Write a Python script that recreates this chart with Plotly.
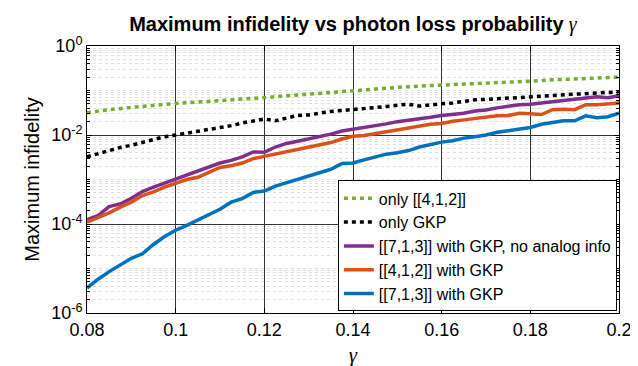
import plotly.graph_objects as go

# ---- data (log10 of maximum infidelity) ----
gamma = [0.0800, 0.0825, 0.0850, 0.0875, 0.0900, 0.0925, 0.0950, 0.0975,
         0.1000, 0.1025, 0.1050, 0.1075, 0.1100, 0.1125, 0.1150, 0.1175,
         0.1200, 0.1225, 0.1250, 0.1275, 0.1300, 0.1325, 0.1350, 0.1375,
         0.1400, 0.1425, 0.1450, 0.1475, 0.1500, 0.1525, 0.1550, 0.1575,
         0.1600, 0.1625, 0.1650, 0.1675, 0.1700, 0.1725, 0.1750, 0.1775,
         0.1800, 0.1825, 0.1850, 0.1875, 0.1900, 0.1925, 0.1950, 0.1975,
         0.2000]

gamma_coarse = [0.080, 0.085, 0.090, 0.095, 0.100, 0.105, 0.110, 0.115,
                0.120, 0.125, 0.130, 0.135, 0.140, 0.145, 0.150, 0.155,
                0.160, 0.165, 0.170, 0.175, 0.180, 0.185, 0.190, 0.195,
                0.200]

only_412_log = [-1.50, -1.43, -1.38, -1.33, -1.29, -1.26, -1.23, -1.20,
                -1.16, -1.12, -1.08, -1.05, -1.01, -0.97, -0.93, -0.90,
                -0.88, -0.85, -0.83, -0.81, -0.79, -0.76, -0.74, -0.72,
                -0.70]

only_gkp_log = [-2.49, -2.42, -2.34, -2.28, -2.23, -2.17, -2.09, -2.04,
                -2.00, -1.96, -1.92, -1.87, -1.83, -1.79, -1.73, -1.68,
                -1.64, -1.68, -1.61, -1.56, -1.55, -1.50, -1.47, -1.45,
                -1.43, -1.41, -1.39, -1.36, -1.33, -1.31, -1.35, -1.32,
                -1.30, -1.28, -1.24, -1.21, -1.20, -1.19, -1.17, -1.16,
                -1.15, -1.13, -1.11, -1.10, -1.08, -1.07, -1.06, -1.05,
                -1.03]

c713_noanalog_log = [-3.90, -3.81, -3.61, -3.55, -3.42, -3.27, -3.17, -3.08,
                     -2.98, -2.89, -2.82, -2.72, -2.63, -2.57, -2.49, -2.38,
                     -2.39, -2.27, -2.19, -2.14, -2.09, -2.03, -1.98, -1.91,
                     -1.87, -1.84, -1.80, -1.75, -1.70, -1.67, -1.63, -1.60,
                     -1.56, -1.54, -1.51, -1.46, -1.44, -1.39, -1.36, -1.32,
                     -1.31, -1.28, -1.25, -1.23, -1.20, -1.16, -1.14, -1.16,
                     -1.12]

c412_gkp_log = [-3.96, -3.86, -3.75, -3.62, -3.51, -3.36, -3.28, -3.17,
                -3.08, -3.00, -2.95, -2.84, -2.73, -2.69, -2.63, -2.53,
                -2.48, -2.43, -2.38, -2.32, -2.27, -2.22, -2.17, -2.09,
                -2.03, -2.01, -1.97, -1.93, -1.89, -1.85, -1.81, -1.76,
                -1.74, -1.69, -1.66, -1.63, -1.60, -1.57, -1.56, -1.51,
                -1.52, -1.54, -1.43, -1.42, -1.43, -1.32, -1.32, -1.30,
                -1.28]

c713_gkp_log = [-5.44, -5.24, -5.07, -4.93, -4.77, -4.67, -4.46, -4.28,
                -4.14, -4.03, -3.91, -3.79, -3.67, -3.51, -3.43, -3.29,
                -3.26, -3.15, -3.07, -2.99, -2.92, -2.83, -2.77, -2.64,
                -2.63, -2.56, -2.49, -2.43, -2.40, -2.35, -2.27, -2.21,
                -2.16, -2.13, -2.07, -2.04, -2.00, -1.94, -1.90, -1.86,
                -1.83, -1.76, -1.73, -1.68, -1.68, -1.57, -1.61, -1.59,
                -1.51]

series_names = ["only [[4,1,2]]", "only GKP",
                "[[7,1,3]] with GKP, no analog info",
                "[[4,1,2]] with GKP", "[[7,1,3]] with GKP"]

x_ticks = [0.08, 0.10, 0.12, 0.14, 0.16, 0.18, 0.20]
x_ticktext = ["0.08", "0.1", "0.12", "0.14", "0.16", "0.18", "0.2"]
y_ticks = [1e-6, 1e-4, 1e-2, 1]
y_ticktext = ["10<sup>-6</sup>", "10<sup>-4</sup>", "10<sup>-2</sup>", "10<sup>0</sup>"]


def lin(vals):
    return [10 ** v for v in vals]


FONT = "Liberation Sans, Arial, Helvetica, sans-serif"
SERIF = "Liberation Serif, DejaVu Serif, serif"

fig = go.Figure()
fig.add_trace(go.Scatter(x=gamma_coarse, y=lin(only_412_log), mode="lines",
                         name=series_names[0],
                         line=dict(color="#77AC30", width=3.5, dash="4px,4px")))
fig.add_trace(go.Scatter(x=gamma, y=lin(only_gkp_log), mode="lines",
                         name=series_names[1],
                         line=dict(color="#000000", width=3.5, dash="4px,4px")))
fig.add_trace(go.Scatter(x=gamma, y=lin(c713_noanalog_log), mode="lines",
                         name=series_names[2],
                         line=dict(color="#7E2F8E", width=3.5)))
fig.add_trace(go.Scatter(x=gamma, y=lin(c412_gkp_log), mode="lines",
                         name=series_names[3],
                         line=dict(color="#D95319", width=3.5)))
fig.add_trace(go.Scatter(x=gamma, y=lin(c713_gkp_log), mode="lines",
                         name=series_names[4],
                         line=dict(color="#0072BD", width=3.5)))

minor_y = [m * 10.0 ** k for k in range(-6, 0) for m in range(1, 10)
           if not (m == 1 and k % 2 == 0)]

fig.update_layout(
    width=638, height=366,
    margin=dict(l=79, r=27, t=38, b=53),
    paper_bgcolor="white", plot_bgcolor="white",
    font=dict(family=FONT, size=18, color="black"),
    title=dict(
        text="<b>Maximum infidelity vs photon loss probability</b>"
             "<span style='font-family:Liberation Serif'><i> γ</i></span>",
        x=0.5405, xanchor="center", y=0.955, yanchor="middle",
        font=dict(family=FONT, size=20, color="black")),
    showlegend=True,
    legend=dict(x=0.996, xanchor="right", y=0.006, yanchor="bottom",
                bgcolor="white", bordercolor="black", borderwidth=1,
                font=dict(family=FONT, size=16, color="black"),
                itemwidth=30, tracegroupgap=0),
)

fig.update_xaxes(
    range=[0.08, 0.2], tickvals=x_ticks, ticktext=x_ticktext,
    ticks="inside", ticklen=5, tickcolor="black",
    showline=True, linecolor="black", linewidth=1, mirror="allticks",
    showgrid=True, gridcolor="#333333", gridwidth=1, zeroline=False,
    tickfont=dict(family=FONT, size=18),
    title=dict(text="<i>γ</i>", font=dict(family=SERIF, size=21), standoff=8),
)

fig.update_yaxes(
    type="log", range=[-6, 0], tickvals=y_ticks, ticktext=y_ticktext,
    ticks="inside", ticklen=5, tickcolor="black",
    showline=True, linecolor="black", linewidth=1, mirror="allticks",
    showgrid=True, gridcolor="#333333", gridwidth=1, zeroline=False,
    tickfont=dict(family=FONT, size=18),
    minor=dict(tickmode="array", tickvals=minor_y, ticks="inside", ticklen=3,
               tickcolor="black", showgrid=True, gridcolor="#e0e0e0",
               griddash="dot", gridwidth=1),
    title=dict(text="Maximum infidelity", font=dict(family=FONT, size=20),
               standoff=6),
)

fig.write_html("out.html")
